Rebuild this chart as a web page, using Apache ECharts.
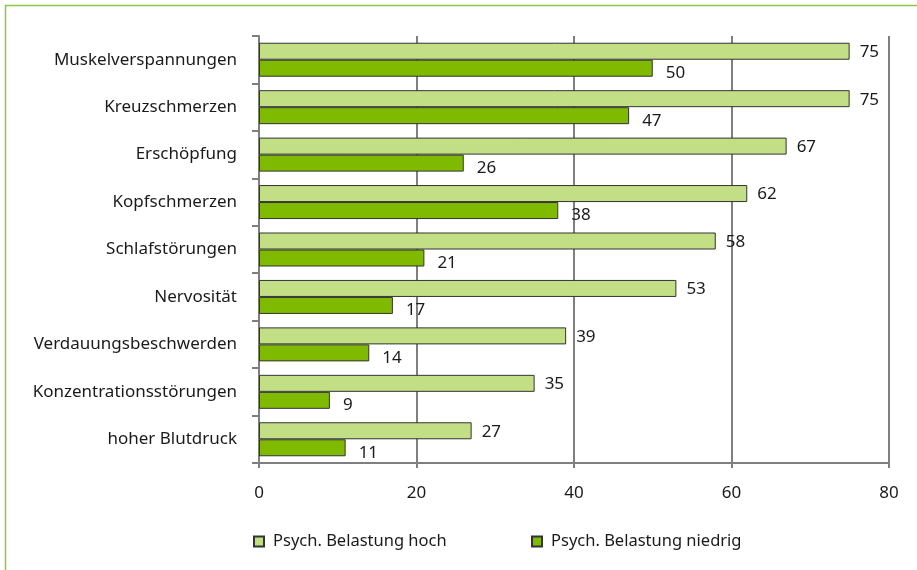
<!DOCTYPE html>
<html>
<head>
<meta charset="utf-8">
<script src="https://cdn.jsdelivr.net/npm/echarts@6/dist/echarts.min.js"></script>
<style>
  html, body { margin: 0; padding: 0; background: #fff; }
  #chart { width: 917px; height: 570px; }
</style>
</head>
<body>
<div id="chart"></div>
<script>
  // Daten aus der Abbildung
  var categories = ['Muskelverspannungen', 'Kreuzschmerzen', 'Erschöpfung', 'Kopfschmerzen',
    'Schlafstörungen', 'Nervosität', 'Verdauungsbeschwerden', 'Konzentrationsstörungen', 'hoher Blutdruck'];
  var belastungHoch = [75, 75, 67, 62, 58, 53, 39, 35, 27];
  var belastungNiedrig = [50, 47, 26, 38, 21, 17, 14, 9, 11];
  var xTicks = [0, 20, 40, 60, 80];

  var fontName = 'Noto Sans';
  var gridColor = '#7f7f7f';
  var txtColor = '#1a1a1a';

  var myChart = echarts.init(document.getElementById('chart'));
  var option = {
    animation: false,
    backgroundColor: '#fff',
    textStyle: {fontFamily: fontName},
    graphic: [{
      type: 'rect',
      shape: {x: 5.5, y: 5.5, width: 960, height: 620},
      style: {fill: 'none', stroke: '#8dc63f', lineWidth: 1.5},
      silent: true
    }],
    grid: {left: 259, right: 28, top: 36, bottom: 107},
    legend: [{
      left: 248, top: 528,
      icon: 'rect',
      itemWidth: 10, itemHeight: 10,
      textStyle: {fontSize: 16.5, color: txtColor, fontFamily: fontName, padding: [0, 0, 0, 4]},
      data: ['Psych. Belastung hoch']
    }, {
      left: 526, top: 528,
      icon: 'rect',
      itemWidth: 10, itemHeight: 10,
      textStyle: {fontSize: 16.5, color: txtColor, fontFamily: fontName, padding: [0, 0, 0, 4]},
      data: ['Psych. Belastung niedrig']
    }],
    xAxis: {
      type: 'value',
      min: xTicks[0],
      max: xTicks[xTicks.length - 1],
      interval: 20,
      axisLine: {show: true, lineStyle: {color: gridColor, width: 2}},
      axisTick: {show: true, length: 5, lineStyle: {color: gridColor, width: 2}},
      splitLine: {show: true, lineStyle: {color: gridColor, width: 2}},
      axisLabel: {fontSize: 17, color: txtColor, margin: 22, fontFamily: fontName}
    },
    yAxis: {
      type: 'category',
      inverse: true,
      data: categories,
      axisLine: {show: true, lineStyle: {color: gridColor, width: 2}},
      axisTick: {show: true, length: 7, lineStyle: {color: gridColor, width: 2}},
      axisLabel: {fontSize: 17, color: txtColor, margin: 22, fontFamily: fontName}
    },
    series: [{
      name: 'Psych. Belastung hoch',
      type: 'bar',
      data: belastungHoch,
      barWidth: 17,
      barGap: '0%',
      itemStyle: {color: '#c3df86', borderColor: '#333', borderWidth: 1},
      label: {show: true, position: 'right', distance: 10, offset: [0, 1], fontSize: 17, color: txtColor, fontFamily: fontName}
    }, {
      name: 'Psych. Belastung niedrig',
      type: 'bar',
      data: belastungNiedrig,
      barWidth: 17,
      barGap: '0%',
      itemStyle: {color: '#7fba00', borderColor: '#333', borderWidth: 1},
      label: {show: true, position: 'right', distance: 13, offset: [0, 5], fontSize: 17, color: txtColor, fontFamily: fontName}
    }]
  };
  myChart.setOption(option);
</script>
</body>
</html>
